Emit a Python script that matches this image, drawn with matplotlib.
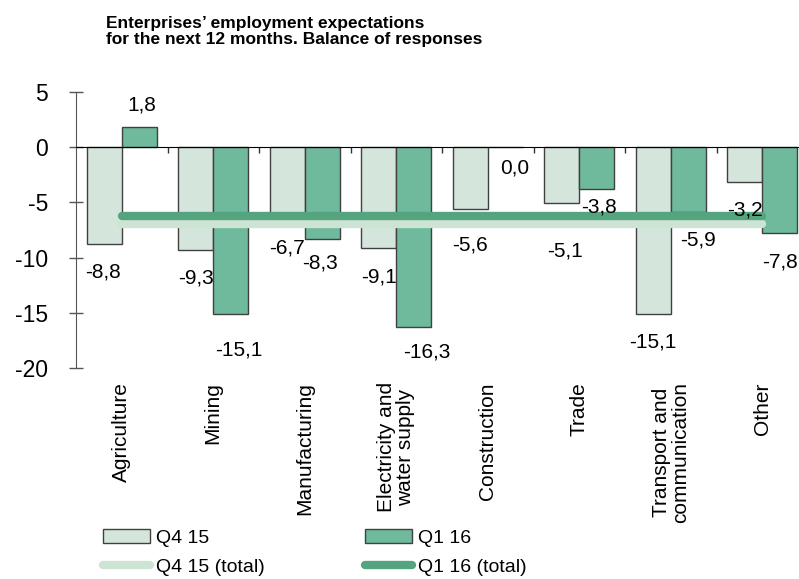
import numpy as np
import matplotlib
matplotlib.use("Agg")
import matplotlib.pyplot as plt
from matplotlib.lines import Line2D
from matplotlib.patches import Patch

plt.rcParams['font.family'] = ['Liberation Sans', 'DejaVu Sans']

# data
categories = ["Agriculture", "Mining", "Manufacturing", "Electricity and\nwater supply",
              "Construction", "Trade", "Transport and\ncommunication", "Other"]
q4_15 = [-8.8, -9.3, -6.7, -9.1, -5.6, -5.1, -15.1, -3.2]
q1_16 = [1.8, -15.1, -8.3, -16.3, 0.0, -3.8, -5.9, -7.8]
q4_15_total = -7.0
q1_16_total = -6.2
yticks = [5, 0, -5, -10, -15, -20]

# label nudges (pixels, dx right / dy down) as in the source chart
q4_nudge = [(-1, 28), (0, 28), (0, 27), (0, 29), (0, 36), (3, 48), (-1, 28), (0, 28)]
q1_nudge = [(3, -22), (8, 36), (-2, 24), (13, 25), (10, 21), (2, 18), (10, 28), (0, 29)]

c_q4 = '#d4e6dc'
c_q1 = '#6fb99c'
c_q4_line = '#cde3d4'
c_q1_line = '#55a480'
edge = '#404040'

fig = plt.figure(figsize=(7.99, 5.79), dpi=100)
ax = fig.add_axes([76/799, 1 - 368.3/579, 732/799, 276.6/579])

x = np.arange(len(categories))
w = 0.38
ax.bar(x - 0.19, q4_15, w, color=c_q4, edgecolor=edge, linewidth=1, zorder=2)
ax.bar(x + 0.19, q1_16, w, color=c_q1, edgecolor=edge, linewidth=1, zorder=2)

ax.plot(x, [q4_15_total] * len(x), color=c_q4_line, lw=6, solid_capstyle='round', zorder=3)
ax.plot(x, [q1_16_total] * len(x), color=c_q1_line, lw=6, solid_capstyle='round', zorder=3)

def fmt(v):
    return "{:.1f}".format(v).replace('.', ',')

for i in range(len(x)):
    dx, dy = q4_nudge[i]
    ax.annotate(fmt(q4_15[i]), (x[i] - 0.19, q4_15[i]), xytext=(dx, -dy),
                textcoords='offset pixels', ha='center', va='center', fontsize=15, zorder=4)
    dx, dy = q1_nudge[i]
    ax.annotate(fmt(q1_16[i]), (x[i] + 0.19, q1_16[i]), xytext=(dx, -dy),
                textcoords='offset pixels', ha='center', va='center', fontsize=15, zorder=4)

ax.set_xlim(-0.5, len(categories) - 0.5)
ax.set_ylim(-20, 5)
ax.set_yticks(yticks)
ax.set_yticklabels([str(t) for t in yticks], fontsize=16.5)
ax.tick_params(axis='y', direction='inout', length=10, width=1, color='#555555', pad=15)

ax.spines['top'].set_visible(False)
ax.spines['right'].set_visible(False)
ax.spines['left'].set_color('#555555')
ax.spines['bottom'].set_position(('data', 0))
ax.spines['bottom'].set_color('black')
ax.set_xticks([])
ax.set_xticks(np.arange(0.5, len(categories) - 0.5, 1), minor=True)
ax.tick_params(axis='x', which='minor', direction='out', length=4, width=1, color='#333333')

for i, name in enumerate(categories):
    ax.text(x[i], -0.05, name, transform=ax.get_xaxis_transform(), rotation=90,
            ha='center', va='top', fontsize=15, multialignment='center', linespacing=1.0)

fig.text(106/799, 1 - 16/579, "Enterprises\u2019 employment expectations\nfor the next 12 months. Balance of responses",
         ha='left', va='top', fontsize=12.5, fontweight='bold', linespacing=1.1)

handles = [Patch(facecolor=c_q4, edgecolor=edge, linewidth=1),
           Line2D([], [], color=c_q4_line, lw=6, solid_capstyle='round'),
           Patch(facecolor=c_q1, edgecolor=edge, linewidth=1),
           Line2D([], [], color=c_q1_line, lw=6, solid_capstyle='round')]
labels = ["Q4 15", "Q4 15 (total)", "Q1 16", "Q1 16 (total)"]
fig.legend(handles, labels, ncol=2, loc='upper left', bbox_to_anchor=(103/799, 1 - 529/579),
           frameon=False, fontsize=14, borderpad=0, borderaxespad=0, handlelength=2.4,
           handletextpad=0.3, columnspacing=5.2, labelspacing=0.62)

fig.savefig("out.png", dpi=100)
